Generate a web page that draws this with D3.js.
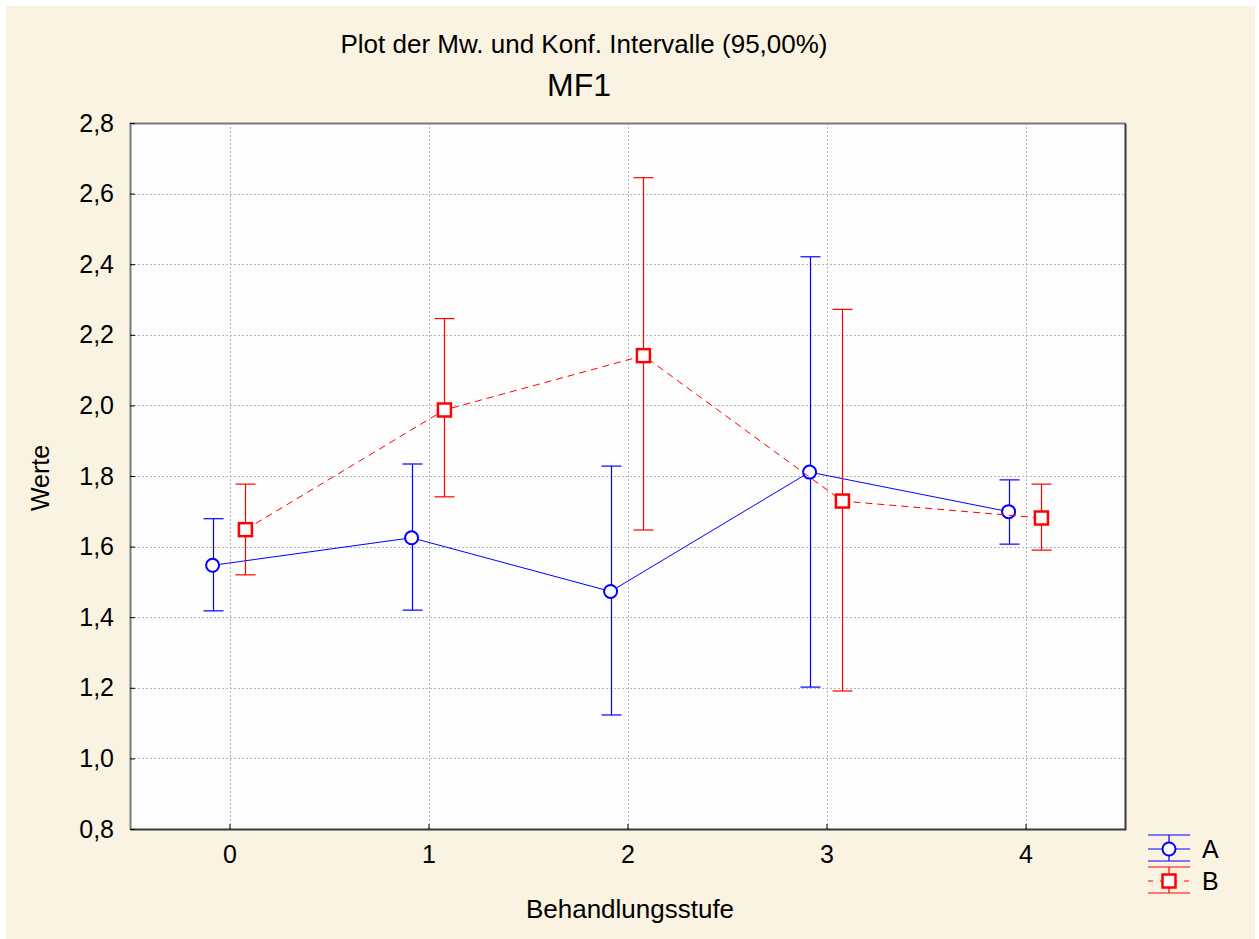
<!DOCTYPE html>
<html>
<head>
<meta charset="utf-8">
<script src="https://cdn.jsdelivr.net/npm/d3@7"></script>
<style>
  html, body { margin: 0; padding: 0; background: #ffffff; }
  svg { display: block; font-family: "Liberation Sans", Arial, sans-serif; }
</style>
</head>
<body>
<svg id="chart" width="1259" height="939"></svg>
<script>
// Treatment levels on the x axis
const levels = [0, 1, 2, 3, 4];
const yTicks = [0.8, 1.0, 1.2, 1.4, 1.6, 1.8, 2.0, 2.2, 2.4, 2.6, 2.8];

// Group A: means and 95% confidence limits
const meanA  = [1.547, 1.625, 1.473, 1.811, 1.699];
const lowerA = [1.418, 1.420, 1.123, 1.202, 1.607];
const upperA = [1.679, 1.834, 1.828, 2.421, 1.789];

// Group B: means and 95% confidence limits
const meanB  = [1.648, 1.987, 2.141, 1.729, 1.681];
const lowerB = [1.520, 1.741, 1.647, 1.191, 1.590];
const upperB = [1.777, 2.246, 2.645, 2.272, 1.777];

const groups = ["A", "B"];

const svg = d3.select("#chart");
const W = 1259, H = 939;
const plot = { left: 130, right: 1125, top: 123, bottom: 829 };
const FONT = "'Liberation Sans', Arial, sans-serif";

// Page background
svg.append("rect").attr("x", 6).attr("y", 6).attr("width", W - 10).attr("height", H - 6)
  .attr("fill", "#fbf3e2");

const x = d3.scaleLinear().domain([-0.5, 4.5]).range([plot.left, plot.right]);
const y = d3.scaleLinear().domain([0.8, 2.8]).range([plot.bottom, plot.top]);

// Plot area
svg.append("rect").attr("x", plot.left).attr("y", plot.top)
  .attr("width", plot.right - plot.left).attr("height", plot.bottom - plot.top)
  .attr("fill", "#fdfdfd");

// Dotted grid
const grid = svg.append("g").attr("stroke", "#b4b4b4").attr("stroke-width", 1)
  .attr("stroke-dasharray", "2,2");
yTicks.slice(1, -1).forEach(v => {
  grid.append("line").attr("x1", plot.left).attr("x2", plot.right)
    .attr("y1", Math.round(y(v)) + 0.5).attr("y2", Math.round(y(v)) + 0.5);
});
levels.forEach(v => {
  grid.append("line").attr("x1", Math.round(x(v)) + 0.5).attr("x2", Math.round(x(v)) + 0.5)
    .attr("y1", plot.top).attr("y2", plot.bottom);
});

// Frame
svg.append("path")
  .attr("d", `M${plot.left + 0.5},${plot.bottom + 0.5}V${plot.top + 0.5}H${plot.right + 0.5}`)
  .attr("fill", "none").attr("stroke", "#7a7a7a").attr("stroke-width", 2);
svg.append("path")
  .attr("d", `M${plot.left + 0.5},${plot.bottom + 0.5}H${plot.right + 0.5}V${plot.top + 0.5}`)
  .attr("fill", "none").attr("stroke", "#3a3a3a").attr("stroke-width", 2);

// Axes (inward ticks)
const fmt = d => d3.format(".1f")(d).replace(".", ",");
const yAxis = svg.append("g").attr("transform", `translate(${plot.left},0)`)
  .call(d3.axisLeft(y).tickValues(yTicks).tickFormat(fmt).tickSizeInner(-5).tickSizeOuter(0).tickPadding(16));
const xAxis = svg.append("g").attr("transform", `translate(0,${plot.bottom})`)
  .call(d3.axisBottom(x).tickValues(levels).tickFormat(d3.format("d")).tickSizeInner(-5).tickSizeOuter(0).tickPadding(16));
[yAxis, xAxis].forEach(a => {
  a.attr("font-size", null).attr("font-family", null);
  a.select(".domain").remove();
  a.selectAll(".tick line").attr("stroke", "#000");
  a.selectAll(".tick text").attr("fill", "#000").style("font-size", "25px")
    .style("font-family", FONT);
});

// Titles and axis labels
svg.append("text").attr("x", 584).attr("y", 53).attr("text-anchor", "middle")
  .style("font-size", "26px").attr("fill", "#000").text("Plot der Mw. und Konf. Intervalle (95,00%)");
svg.append("text").attr("x", 579).attr("y", 96).attr("text-anchor", "middle")
  .style("font-size", "32px").attr("fill", "#000").text("MF1");
svg.append("text").attr("x", 630).attr("y", 918).attr("text-anchor", "middle")
  .style("font-size", "26px").attr("fill", "#000").text("Behandlungsstufe");
svg.append("text").attr("transform", "translate(49,478) rotate(-90)").attr("text-anchor", "middle")
  .style("font-size", "25px").attr("fill", "#000").text("Werte");

// Series drawing
const series = [
  { name: "A", mean: meanA, lo: lowerA, hi: upperA, color: "#0000ff", offset: -0.085, dash: null, marker: "circle" },
  { name: "B", mean: meanB, lo: lowerB, hi: upperB, color: "#ff0000", offset: 0.08, dash: "7,5", marker: "square" }
];

const capHalf = 10;
series.forEach(s => {
  const g = svg.append("g");
  const px = i => x(levels[i] + s.offset);
  // connecting line
  const line = d3.line().x((d, i) => px(i)).y(d => y(d));
  g.append("path").datum(s.mean).attr("d", line).attr("fill", "none")
    .attr("stroke", s.color).attr("stroke-width", 1)
    .attr("stroke-dasharray", s.dash);
  // error bars
  levels.forEach((lv, i) => {
    const cx = Math.round(px(i)) + 0.5;
    g.append("line").attr("x1", cx).attr("x2", cx).attr("y1", y(s.lo[i])).attr("y2", y(s.hi[i]))
      .attr("stroke", s.color).attr("stroke-width", 1.2);
    [s.lo[i], s.hi[i]].forEach(v => {
      g.append("line").attr("x1", cx - capHalf).attr("x2", cx + capHalf)
        .attr("y1", y(v)).attr("y2", y(v)).attr("stroke", s.color).attr("stroke-width", 1.2);
    });
  });
  // markers
  levels.forEach((lv, i) => {
    const cx = px(i), cy = y(s.mean[i]);
    if (s.marker === "circle") {
      g.append("circle").attr("cx", cx).attr("cy", cy).attr("r", 6.5)
        .attr("fill", "#fff").attr("stroke", s.color).attr("stroke-width", 2);
    } else {
      g.append("rect").attr("x", cx - 6.5).attr("y", cy - 6.5).attr("width", 13).attr("height", 13)
        .attr("fill", "#fff").attr("stroke", s.color).attr("stroke-width", 2.5);
    }
  });
});

// Legend
const legend = svg.append("g");
series.forEach((s, k) => {
  const cy = 849 + k * 32;
  const x0 = 1148, x1 = 1190, cx = 1169;
  const lg = legend.append("g");
  lg.append("line").attr("x1", x0).attr("x2", x1).attr("y1", cy - 14).attr("y2", cy - 14)
    .attr("stroke", s.color).attr("stroke-width", 1.2);
  lg.append("line").attr("x1", x0).attr("x2", x1).attr("y1", cy + 12).attr("y2", cy + 12)
    .attr("stroke", s.color).attr("stroke-width", 1.2);
  lg.append("line").attr("x1", x0).attr("x2", x1).attr("y1", cy).attr("y2", cy)
    .attr("stroke", s.color).attr("stroke-width", 1).attr("stroke-dasharray", s.dash ? "5,7" : null);
  lg.append("line").attr("x1", cx).attr("x2", cx).attr("y1", cy - 14).attr("y2", cy + 12)
    .attr("stroke", s.color).attr("stroke-width", 1.2);
  if (s.marker === "circle") {
    lg.append("circle").attr("cx", cx).attr("cy", cy).attr("r", 6.5)
      .attr("fill", "#fff").attr("stroke", s.color).attr("stroke-width", 2);
  } else {
    lg.append("rect").attr("x", cx - 6.5).attr("y", cy - 6.5).attr("width", 13).attr("height", 13)
      .attr("fill", "#fff").attr("stroke", s.color).attr("stroke-width", 2.5);
  }
  lg.append("text").attr("x", 1202).attr("y", cy + 9).style("font-size", "25px")
    .attr("fill", "#000").text(groups[k]);
});
</script>
</body>
</html>
